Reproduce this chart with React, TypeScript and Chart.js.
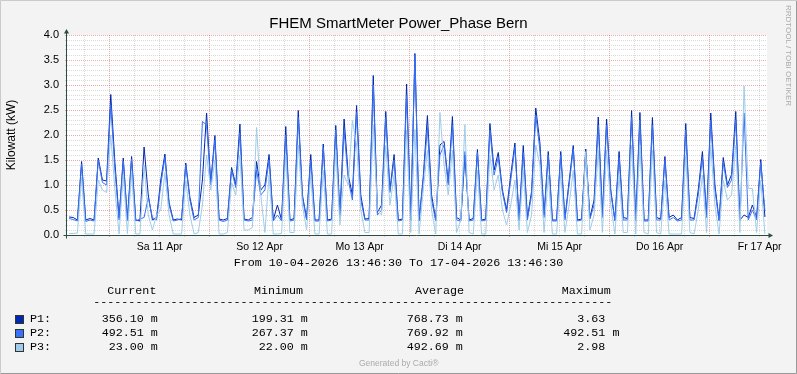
import React, { useEffect, useRef } from 'react';
import { Chart, registerables } from 'chart.js';

Chart.register(...registerables);

// Hourly readings (kW), starting 10-04-2026 13:46:30
const P1 = [
  0.36, 0.35, 0.30, 1.47, 0.30, 0.33, 0.30, 1.54, 1.10, 1.08,
  2.81, 1.45, 0.35, 1.54, 0.32, 1.57, 0.30, 0.28, 1.76, 0.80,
  0.30, 0.35, 1.10, 1.62, 0.65, 0.30, 0.32, 0.30, 1.44, 0.75,
  0.35, 0.40, 1.10, 2.44, 1.05, 1.99, 0.32, 0.30, 0.33, 1.35,
  1.00, 2.22, 0.32, 0.30, 0.35, 1.47, 0.90, 1.00, 1.61, 0.30,
  0.60, 0.30, 2.17, 0.30, 0.33, 2.49, 0.80, 0.33, 1.61, 0.30,
  0.30, 1.82, 0.30, 0.32, 2.19, 0.40, 2.32, 1.20, 0.80, 2.59,
  0.80, 0.32, 0.33, 3.19, 0.45, 0.60, 2.47, 0.90, 1.61, 0.30,
  0.32, 3.02, 0.30, 3.63, 0.30, 1.16, 2.39, 0.80, 0.30, 1.80,
  1.87, 1.05, 2.37, 0.35, 0.30, 1.60, 0.30, 0.33, 1.71, 0.30,
  0.32, 2.23, 1.30, 1.65, 0.90, 0.50, 1.20, 1.84, 0.30, 1.79,
  0.35, 0.87, 2.54, 1.84, 0.40, 1.67, 0.30, 0.30, 1.67, 0.33,
  1.07, 1.79, 0.30, 0.32, 1.72, 0.35, 0.70, 2.36, 0.40, 2.32,
  0.90, 0.30, 1.67, 0.35, 0.33, 2.49, 0.30, 2.45, 0.30, 0.30,
  2.35, 0.35, 0.32, 1.57, 0.35, 0.40, 0.30, 0.35, 2.23, 0.35,
  0.33, 0.90, 1.67, 0.40, 2.44, 1.00, 0.30, 1.55, 1.00, 1.21,
  2.47, 0.30, 0.40, 0.35, 0.60, 0.35, 1.51, 0.36,
];
const P2 = [
  0.33, 0.31, 0.28, 1.42, 0.27, 0.30, 0.28, 1.50, 1.05, 1.00,
  2.60, 1.30, 0.30, 1.48, 0.29, 1.52, 0.28, 0.32, 0.35, 0.75,
  0.35, 0.30, 1.00, 1.55, 0.60, 0.28, 0.30, 0.33, 1.40, 0.70,
  0.30, 0.35, 2.27, 2.20, 1.00, 1.90, 0.30, 0.27, 0.30, 1.30,
  0.95, 2.04, 0.30, 0.28, 0.30, 1.30, 0.80, 0.90, 1.50, 0.28,
  0.40, 0.28, 2.00, 0.28, 0.30, 2.35, 0.75, 0.30, 1.50, 0.28,
  0.28, 1.75, 0.28, 0.30, 2.10, 0.35, 2.10, 1.10, 0.70, 2.45,
  0.70, 0.30, 0.30, 3.00, 0.40, 0.50, 2.35, 0.85, 1.50, 0.28,
  0.30, 2.80, 0.28, 3.60, 0.28, 1.10, 2.15, 0.70, 0.28, 1.60,
  1.80, 1.00, 2.20, 0.30, 0.28, 1.67, 0.28, 0.30, 1.65, 0.28,
  0.30, 2.10, 1.20, 1.55, 0.85, 0.45, 1.10, 1.75, 0.28, 1.65,
  0.30, 0.80, 2.40, 1.70, 0.35, 1.60, 0.28, 0.28, 1.60, 0.30,
  1.00, 1.72, 0.28, 0.30, 1.65, 0.32, 0.60, 2.20, 0.35, 2.20,
  0.85, 0.28, 1.55, 0.30, 0.30, 2.35, 0.28, 2.30, 0.28, 0.28,
  2.20, 0.30, 0.30, 1.50, 0.30, 0.35, 0.28, 0.30, 2.10, 0.30,
  0.30, 0.80, 1.55, 0.35, 2.30, 0.90, 0.28, 1.45, 0.95, 1.10,
  2.30, 0.28, 2.44, 0.30, 0.50, 0.30, 1.45, 0.49,
];
const P3 = [
  0.03, 0.03, 0.04, 1.15, 0.02, 0.02, 0.02, 1.10, 0.90, 0.85,
  2.00, 0.90, 0.02, 1.20, 0.03, 1.25, 0.02, 0.02, 1.40, 0.40,
  0.10, 0.40, 0.50, 1.25, 0.40, 0.02, 0.02, 0.02, 1.10, 0.40,
  0.02, 0.05, 0.60, 1.60, 0.90, 1.50, 0.02, 0.02, 0.05, 1.05,
  0.80, 1.60, 0.10, 0.10, 0.15, 2.15, 0.80, 0.05, 1.20, 0.02,
  0.02, 0.03, 1.60, 0.05, 0.05, 1.80, 0.60, 0.10, 1.20, 0.02,
  0.02, 1.30, 0.02, 0.02, 1.70, 0.20, 1.20, 1.00, 2.29, 1.80,
  0.50, 0.05, 0.05, 2.20, 0.50, 0.40, 1.80, 0.60, 1.20, 0.02,
  0.02, 2.10, 0.05, 2.11, 0.02, 0.90, 1.70, 0.50, 0.02, 2.45,
  1.40, 0.80, 1.70, 0.05, 0.30, 2.21, 0.05, 0.02, 1.30, 0.02,
  0.02, 1.60, 0.90, 1.20, 0.50, 0.20, 0.60, 1.10, 0.10, 1.30,
  0.05, 0.40, 1.80, 1.40, 0.05, 1.20, 0.02, 0.02, 1.25, 0.05,
  0.60, 1.30, 0.02, 0.02, 1.67, 0.10, 0.40, 1.70, 0.05, 1.70,
  0.60, 0.02, 1.20, 0.05, 0.05, 1.80, 0.02, 1.80, 0.05, 0.02,
  1.70, 0.05, 0.02, 1.10, 0.02, 0.02, 0.02, 0.02, 1.60, 0.05,
  0.02, 0.50, 1.20, 0.05, 1.80, 0.60, 0.02, 1.10, 0.70, 0.80,
  1.80, 0.05, 2.98, 0.93, 0.93, 0.05, 1.10, 0.02,
];

// x axis: hours since start; grid every 6 h, midnight = major, labels at noon
const xTickHours = [
  4.225, 10.225, 16.225, 22.225, 28.225, 34.225, 40.225, 46.225, 52.225, 58.225,
  64.225, 70.225, 76.225, 82.225, 88.225, 94.225, 100.225, 106.225, 112.225, 118.225,
  124.225, 130.225, 136.225, 142.225, 148.225, 154.225, 160.225, 166.225,
];
const xTickLabels = [
  '', '', '', 'Sa 11 Apr', '', '', '', 'So 12 Apr', '', '',
  '', 'Mo 13 Apr', '', '', '', 'Di 14 Apr', '', '', '', 'Mi 15 Apr',
  '', '', '', 'Do 16 Apr', '', '', '', 'Fr 17 Apr',
];
const xTickMajor = [
  false, true, false, false, false, true, false, false, false, true,
  false, false, false, true, false, false, false, true, false, false,
  false, true, false, false, false, true, false, false,
];

const seriesNames = ['P1:', 'P2:', 'P3:'];
const seriesColors = ['#0028B0', '#3872F8', '#A0CCEA'];
const colCurrent = ['356.10 m', '492.51 m', ' 23.00 m'];
const colMinimum = ['199.31 m', '267.37 m', ' 22.00 m'];
const colAverage = ['768.73 m', '769.92 m', '492.69 m'];
const colMaximum = ['  3.63', '492.51 m', '  2.98'];

const GRID = 'rgba(140,140,140,0.32)';
const MGRID = 'rgba(200,40,40,0.38)';
const AXIS = '#2C4D43';
const SANS = "'Liberation Sans', Arial, sans-serif";
const MONO = "'Liberation Mono', 'DejaVu Sans Mono', monospace";
const MONO_SIZE = 11.7;

const rrdPlugin = {
  id: 'rrdFrame',
  beforeDraw(chart: any) {
    const { ctx, chartArea: a, width, height } = chart;
    ctx.save();
    ctx.fillStyle = '#F3F3F3';
    ctx.fillRect(0, 0, width, height);
    ctx.fillStyle = '#FFFFFF';
    ctx.fillRect(a.left, a.top, a.right - a.left, a.bottom - a.top);
    ctx.restore();
  },
  afterDatasetsDraw(chart: any) {
    const { ctx, chartArea: a } = chart;
    const ax = Math.floor(a.left) - 0.5;
    const ay = Math.round(a.bottom) + 0.5;
    ctx.save();
    ctx.strokeStyle = AXIS;
    ctx.fillStyle = AXIS;
    ctx.lineWidth = 1;
    ctx.beginPath();
    ctx.moveTo(ax, ay + 3);
    ctx.lineTo(ax, a.top - 3);
    ctx.moveTo(ax - 3, ay);
    ctx.lineTo(a.right + 2, ay);
    ctx.stroke();
    ctx.beginPath();
    ctx.moveTo(ax, a.top - 6);
    ctx.lineTo(ax - 2.5, a.top - 1.5);
    ctx.lineTo(ax + 2.5, a.top - 1.5);
    ctx.closePath();
    ctx.fill();
    ctx.beginPath();
    ctx.moveTo(a.right + 6, ay);
    ctx.lineTo(a.right + 1.5, ay - 2.5);
    ctx.lineTo(a.right + 1.5, ay + 2.5);
    ctx.closePath();
    ctx.fill();
    ctx.restore();
  },
  afterDraw(chart: any) {
    const { ctx, width, height } = chart;
    ctx.save();
    ctx.lineWidth = 1;
    ctx.strokeStyle = '#CBCBCB';
    ctx.beginPath();
    ctx.moveTo(0.5, height);
    ctx.lineTo(0.5, 0.5);
    ctx.lineTo(width, 0.5);
    ctx.stroke();
    ctx.strokeStyle = '#999999';
    ctx.beginPath();
    ctx.moveTo(1, height - 0.5);
    ctx.lineTo(width - 0.5, height - 0.5);
    ctx.lineTo(width - 0.5, 1);
    ctx.stroke();
    ctx.restore();
  },
};

function Txt(props: {
  x?: number; base: number; size: number; family: string; asc: number;
  color?: string; center?: boolean; children: React.ReactNode;
}) {
  const { x, base, size, family, asc, color, center, children } = props;
  const style: React.CSSProperties = {
    position: 'absolute',
    top: base - asc * size,
    font: `${size}px ${family}`,
    lineHeight: `${size}px`,
    whiteSpace: 'pre',
    color: color || '#000',
  };
  if (center) {
    style.left = 0;
    style.width = 797;
    style.textAlign = 'center';
  } else {
    style.left = x;
  }
  return <div style={style}>{children}</div>;
}

const MONO_ASC = 0.766;
const SANS_ASC = 0.8465;

export default function App() {
  const ref = useRef<HTMLCanvasElement>(null);

  useEffect(() => {
    document.body.style.margin = '0';
    const canvas = ref.current;
    if (!canvas) return;
    const series = [P1, P2, P3];
    const chart = new Chart(canvas, {
      type: 'line',
      data: {
        datasets: series.map((vals, k) => ({
          label: seriesNames[k],
          data: vals.map((v, i) => ({ x: i + 0.5, y: v })),
          borderColor: seriesColors[k],
          backgroundColor: seriesColors[k],
          borderWidth: 1,
          pointRadius: 0,
          fill: false,
          tension: 0,
          order: 2 - k,
        })),
      },
      plugins: [rrdPlugin],
      options: {
        responsive: false,
        maintainAspectRatio: false,
        animation: false,
        devicePixelRatio: 1,
        events: [],
        layout: { padding: { left: 0, right: 30, top: 35, bottom: 119 } },
        plugins: {
          legend: { display: false },
          title: { display: false },
          tooltip: { enabled: false },
        },
        scales: {
          x: {
            type: 'linear',
            min: 0,
            max: 168,
            afterBuildTicks: (s: any) => {
              s.ticks = xTickHours.map((v) => ({ value: v }));
            },
            afterFit: (s: any) => {
              s.height = 20;
              s.paddingLeft = 0;
              s.paddingRight = 0;
            },
            ticks: {
              autoSkip: false,
              maxRotation: 0,
              minRotation: 0,
              padding: 4,
              color: '#000',
              font: { family: SANS, size: 10.5 },
              callback: (_v: any, i: number) => xTickLabels[i],
            },
            grid: {
              color: (c: any) => (xTickMajor[c.index] ? MGRID : GRID),
              tickColor: (c: any) => (xTickMajor[c.index] ? MGRID : GRID),
              lineWidth: 1,
              drawTicks: true,
              tickLength: 2,
            },
            border: { display: false, dash: [1, 1] },
          },
          y: {
            type: 'linear',
            min: 0,
            max: 4,
            afterFit: (s: any) => {
              s.width = 67;
              s.paddingTop = 0;
              s.paddingBottom = 0;
            },
            ticks: {
              stepSize: 0.1,
              autoSkip: false,
              padding: 6,
              color: '#000',
              font: { family: SANS, size: 11 },
              callback: (v: any) => (Math.round(Number(v) * 10) % 5 === 0 ? Number(v).toFixed(1) : ''),
            },
            grid: {
              color: (c: any) => (Math.round(c.tick.value * 10) % 5 === 0 ? MGRID : GRID),
              tickColor: (c: any) => (Math.round(c.tick.value * 10) % 5 === 0 ? MGRID : GRID),
              lineWidth: 1,
              drawTicks: true,
              tickLength: 2,
            },
            border: { display: false, dash: [1, 1] },
            title: {
              display: true,
              text: 'Kilowatt (kW)',
              color: '#000',
              font: { family: SANS, size: 12 },
              padding: { top: 4, bottom: 0 },
            },
          },
        },
      },
    } as any);
    return () => chart.destroy();
  }, []);

  const rowBase = [322.5, 336.5, 350.5];
  const mono = { size: MONO_SIZE, family: MONO, asc: MONO_ASC };

  return (
    <div style={{ position: 'absolute', left: 0, top: 0, width: 797, height: 374, overflow: 'hidden', background: '#F3F3F3' }}>
      <canvas ref={ref} width={797} height={374} style={{ position: 'absolute', left: 0, top: 0, width: 797, height: 374 }} />
      <Txt center base={28} size={15} family={SANS} asc={SANS_ASC}>FHEM SmartMeter Power_Phase Bern</Txt>
      <div
        style={{
          position: 'absolute', left: 783.5, top: 5, font: `8px ${SANS}`, lineHeight: '8px',
          writingMode: 'vertical-rl', color: '#AAAAAA', whiteSpace: 'pre',
        }}
      >
        RRDTOOL / TOBI OETIKER
      </div>
      <Txt center base={266.5} {...mono}>From 10-04-2026 13:46:30 To 17-04-2026 13:46:30</Txt>
      <Txt x={107.3} base={295} {...mono}>Current</Txt>
      <Txt x={254} base={295} {...mono}>Minimum</Txt>
      <Txt x={415} base={295} {...mono}>Average</Txt>
      <Txt x={561.7} base={295} {...mono}>Maximum</Txt>
      <Txt x={93.3} base={306} {...mono}>{'-'.repeat(74)}</Txt>
      {seriesNames.map((name, k) => (
        <React.Fragment key={name}>
          <div
            style={{
              position: 'absolute', left: 15, top: rowBase[k] - 7.5, width: 9, height: 9,
              boxSizing: 'border-box', border: '1px solid #333', background: seriesColors[k],
            }}
          />
          <Txt x={30} base={rowBase[k]} {...mono}>{name}</Txt>
          <Txt x={101.7} base={rowBase[k]} {...mono}>{colCurrent[k]}</Txt>
          <Txt x={251.7} base={rowBase[k]} {...mono}>{colMinimum[k]}</Txt>
          <Txt x={406.7} base={rowBase[k]} {...mono}>{colAverage[k]}</Txt>
          <Txt x={563.3} base={rowBase[k]} {...mono}>{colMaximum[k]}</Txt>
        </React.Fragment>
      ))}
      <Txt x={359} base={366} size={8.5} family={SANS} asc={SANS_ASC} color="#AAAAAA">Generated by Cacti®</Txt>
    </div>
  );
}
